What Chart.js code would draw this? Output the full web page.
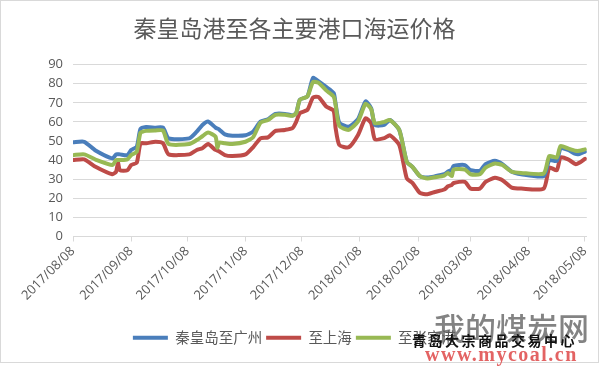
<!DOCTYPE html>
<html>
<head>
<meta charset="utf-8">
<script src="https://cdn.jsdelivr.net/npm/chart.js@4/dist/chart.umd.min.js"></script>
<style>
  html, body { margin:0; padding:0; background:#fff; }
  #box { position:absolute; left:0; top:0; width:597px; height:361px; border:1px solid #d9d9d9; }
  .wm { position:absolute; white-space:nowrap; line-height:1; }
  #wm1 { left:434px; top:304px; font:500 31px "Noto Sans CJK SC"; color:rgba(100,100,100,0.8); letter-spacing:0px; }
  #wm2 { left:412px; top:330px; font:bold 14px "Noto Sans CJK SC"; color:#111; letter-spacing:2.5px; }
  #wm3 { left:425px; top:343px; font:bold 20px "Liberation Serif"; color:rgba(220,60,60,0.8); letter-spacing:1.5px; }
</style>
</head>
<body>
<div id="box"><canvas id="c" width="597" height="361"></canvas></div>
<div class="wm" id="wm1">我的煤炭网</div>
<div class="wm" id="wm2">青岛大宗商品交易中心</div>
<div class="wm" id="wm3">www.mycoal.cn</div>
<script>
// days counted from 2017/08/08
const days = [0,6,12,21,23,24,25,29,31,34,36,39,44,48,51,62,66,69,72,76,77,78,81,85,92,96,100,104,108,113,117,119,121,125,128,131,135,139,140,142,147,152,156,159,161,166,169,174,178,181,185,189,193,198,200,202,203,209,212,217,220,225,229,234,239,251,254,258,260,264,268,270,273];
const guangzhou = [49.3,49.6,45,40.9,43,43,43,42.6,45.3,47,56.3,57.3,57,57,51.4,51.4,54.9,58.4,60.2,57,56.5,56,53.5,52.8,53,54.9,60.2,61.4,64.2,64.2,63.4,64.6,71.6,73.3,83,81.2,78.3,75.1,69.8,59.6,57.5,61.4,70.7,67.2,58.4,58.4,61,55.8,39.1,36.5,31.6,30.9,31.5,32.6,34,35,37,37.4,34.7,34.4,37.9,39.6,37.9,33.9,32.6,31.6,40,39.6,46.1,45.3,43.2,43.2,44.4];
const shanghai = [40,40.4,36.5,32.6,34,38.6,34.7,34.7,37.4,38.6,48.8,48.8,49.6,48.8,43,43,45.3,46.2,48.4,45.3,45,44.5,42.6,42.1,43,46.7,51.4,51.9,55.3,55.8,56.7,60,64.6,66.3,72.8,73,68.1,65.8,57,47.9,46.7,53.2,61.9,59.3,50.9,51.5,53,47.9,30.4,28.1,22.8,22.1,23.3,24.6,26.3,27,28,28.6,25.1,25.1,28.6,30.7,29.5,25.6,25.1,25.1,36.1,34.7,41.4,40.4,37.9,38.6,40.7];
const zhangjiagang = [42.6,43,40.3,37.4,40,40,40,40.4,42.6,44.4,54.4,55.3,55.5,55.5,48.4,48.4,50.5,52.5,54.4,52.3,46.5,49.2,48.8,48.4,49.6,51.9,59.6,61,63.7,63.7,63.2,64.5,71.6,73.3,80.9,80.4,76.5,73.3,69,57.9,55.8,60.2,69.5,66.7,59.3,60,61,55.8,39.1,36.5,31.6,30.4,31,31.9,33.3,31.6,35.1,35.1,32.6,32.6,36.1,38.2,37.4,33.9,33.3,33,42.1,41.4,47.4,46.1,44.9,44.9,45.6];
const seriesNames = ['秦皇岛至广州','至上海','至张家港'];
const tickDays = [0,31,61,92,122,153,184,212,243,273];
const tickLabels = ['2017/08/08','2017/09/08','2017/10/08','2017/11/08','2017/12/08','2018/01/08','2018/02/08','2018/03/08','2018/04/08','2018/05/08'];

const pts = vals => days.map((d,i) => ({x:d, y:vals[i]}));
const mk = (label, vals, color, order) => ({
  label, data: pts(vals), borderColor: color, backgroundColor: color,
  borderWidth: 4, pointRadius: 0, tension: 0.2, order,
  borderJoinStyle: 'round', borderCapStyle: 'round'
});

new Chart(document.getElementById('c'), {
  type: 'line',
  data: { datasets: [
    mk(seriesNames[0], guangzhou, '#4A7EBB', 1),
    mk(seriesNames[1], shanghai, '#BE4B48', 2),
    mk(seriesNames[2], zhangjiagang, '#98B954', 0)
  ]},
  options: {
    responsive: false, animation: false,
    layout: { padding: { left: 0, right: 10, top: 0, bottom: 7 } },
    plugins: {
      title: { display: true, text: '秦皇岛港至各主要港口海运价格', color: '#595959',
               font: { family: 'Noto Sans CJK SC', size: 23, weight: 'normal' },
               padding: { top: 13, bottom: 23 } },
      legend: { position: 'bottom',
        labels: { boxWidth: 35, boxHeight: 4, padding: 4, color: '#595959',
                  font: { family: 'Noto Sans CJK SC', size: 14.5 },
                  sort: (a,b) => a.datasetIndex - b.datasetIndex,
                  generateLabels: ch => Chart.defaults.plugins.legend.labels.generateLabels(ch).map(l => ({...l, lineWidth: 0})) } },
      tooltip: { enabled: false }
    },
    scales: {
      x: { type: 'linear', min: 0, max: 274,
        afterBuildTicks: s => { s.ticks = tickDays.map(v => ({value: v})); },
        afterFit: s => { s.height = 90; },
        grid: { drawOnChartArea: false, drawTicks: true, tickLength: 5, color: '#d9d9d9' },
        border: { color: '#d9d9d9' },
        ticks: { minRotation: 45, maxRotation: 45, autoSkip: false, padding: 2, color: '#595959',
                 font: { family: 'Open Sans', size: 13 },
                 callback: (v, i) => tickLabels[i] } },
      y: { min: 0, max: 90,
        afterFit: s => { s.width = 72; },
        grid: { color: '#d9d9d9', drawTicks: false },
        border: { display: false },
        ticks: { stepSize: 10, padding: 10, color: '#595959', font: { family: 'Open Sans', size: 13 } } }
    }
  }
});
</script>
</body>
</html>
